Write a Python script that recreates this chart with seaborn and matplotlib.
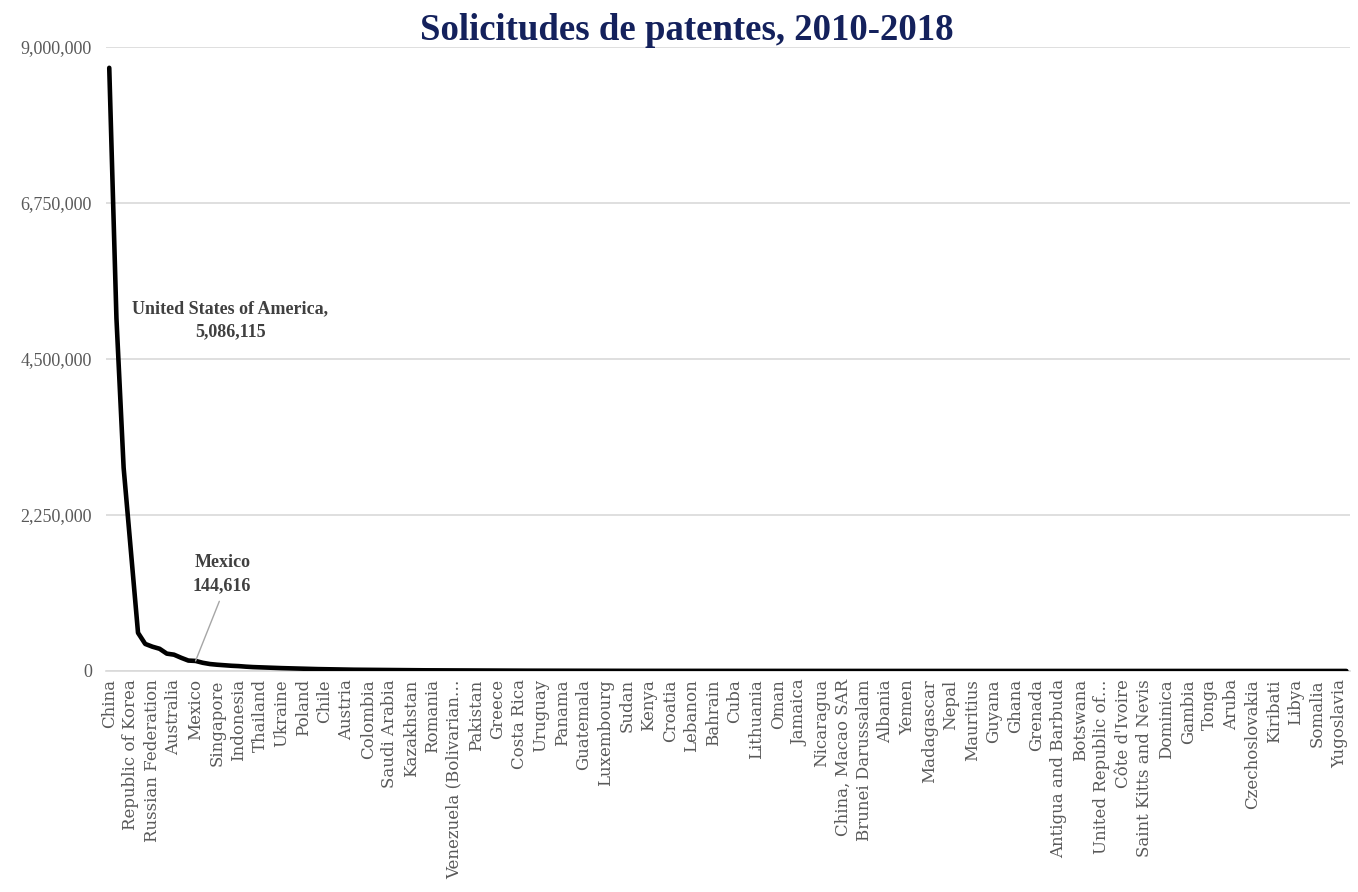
import matplotlib
matplotlib.use("Agg")
import matplotlib.pyplot as plt
import seaborn as sns
import pandas as pd

# ---------------- data ----------------
countries = [
    "China", "United States of America", "Japan",
    "Republic of Korea", "Germany", "India",
    "Russian Federation", "Canada", "Brazil",
    "Australia", "United Kingdom", "France",
    "Mexico", "China, Hong Kong SAR", "Israel",
    "Singapore", "Iran (Islamic Republic of)", "Italy",
    "Indonesia", "Viet Nam", "South Africa",
    "Thailand", "Turkey", "Spain",
    "Ukraine", "Malaysia", "Philippines",
    "Poland", "Argentina", "Egypt",
    "Chile", "New Zealand", "Netherlands",
    "Austria", "Denmark", "Finland",
    "Colombia", "Morocco", "Peru",
    "Saudi Arabia", "Czech Republic", "Belgium",
    "Kazakhstan", "Norway", "Portugal",
    "Romania", "Hungary", "Ecuador",
    "Venezuela (Bolivarian Republic of)", "Belarus", "Uzbekistan",
    "Pakistan", "Ireland", "Slovakia",
    "Greece", "Bulgaria", "Dominican Republic",
    "Costa Rica", "Georgia", "Serbia",
    "Uruguay", "Algeria", "Tunisia",
    "Panama", "Sri Lanka", "Slovenia",
    "Guatemala", "Armenia", "Republic of Moldova",
    "Luxembourg", "Azerbaijan", "Honduras",
    "Sudan", "El Salvador", "Jordan",
    "Kenya", "Estonia", "Kyrgyzstan",
    "Croatia", "Bosnia and Herzegovina", "Latvia",
    "Lebanon", "Mongolia", "Tajikistan",
    "Bahrain", "Qatar", "North Macedonia",
    "Cuba", "Zimbabwe", "Syrian Arab Republic",
    "Lithuania", "Trinidad and Tobago", "Bolivia (Plurinational State of)",
    "Oman", "Iceland", "Cyprus",
    "Jamaica", "Montenegro", "Paraguay",
    "Nicaragua", "Malta", "Iraq",
    "China, Macao SAR", "Zambia", "Barbados",
    "Brunei Darussalam", "Mozambique", "Malawi",
    "Albania", "Namibia", "Ethiopia",
    "Yemen", "Bangladesh", "Kuwait",
    "Madagascar", "Rwanda", "Uganda",
    "Nepal", "Cambodia", "Seychelles",
    "Mauritius", "Belize", "Bahamas",
    "Guyana", "Saint Lucia", "Liberia",
    "Ghana", "Sierra Leone", "Lesotho",
    "Grenada", "Eswatini", "Saint Vincent and the Grenadines",
    "Antigua and Barbuda", "Haiti", "Monaco",
    "Botswana", "Samoa", "Suriname",
    "United Republic of Tanzania", "Angola", "Bhutan",
    "Côte d'Ivoire", "Fiji", "Liechtenstein",
    "Saint Kitts and Nevis", "Andorra", "San Marino",
    "Dominica", "Vanuatu", "Papua New Guinea",
    "Gambia", "Maldives", "Afghanistan",
    "Tonga", "Lao People's Democratic Republic", "Myanmar",
    "Aruba", "Democratic People's Republic of Korea", "Senegal",
    "Czechoslovakia", "Cameroon", "Nigeria",
    "Kiribati", "Soviet Union", "Turkmenistan",
    "Libya", "Burundi", "Congo",
    "Somalia", "Djibouti", "Eritrea",
    "Yugoslavia", "Timor-Leste",
]

applications = [
    8700000, 5086115, 2930000, 1740000, 550000, 390000, 350000, 320000, 250000, 235000,
    190000, 150000, 144616, 118000, 100000, 90000, 82000, 75000, 70000, 62000,
    56000, 52000, 47000, 44000, 41000, 38000, 35000, 33000, 30000, 27000,
    25000, 23000, 21000, 19500, 18000, 17000, 16000, 15000, 14000, 13000,
    12200, 11500, 10800, 10100, 9500, 9000, 8400, 7900, 7400, 7000,
    6600, 6200, 5800, 5500, 5200, 4900, 4600, 4300, 4050, 3800,
    3600, 3400, 3200, 3000, 2850, 2700, 2550, 2400, 2280, 2160,
    2050, 1950, 1850, 1750, 1660, 1570, 1490, 1410, 1340, 1270,
    1200, 1140, 1080, 1020, 970, 920, 870, 820, 780, 740,
    700, 660, 625, 590, 560, 530, 500, 470, 445, 420,
    395, 370, 350, 330, 310, 290, 270, 255, 240, 225,
    210, 195, 182, 170, 158, 147, 136, 126, 117, 108,
    100, 92, 85, 78, 72, 66, 61, 56, 51, 47,
    43, 39, 36, 33, 30, 27, 25, 23, 21, 19,
    17, 15, 14, 13, 12, 11, 10, 9, 8, 7,
    6, 6, 5, 5, 4, 4, 3, 3, 3, 2,
    2, 2, 2, 1, 1, 1, 1, 1, 1, 1,
    1, 1, 1,
]

# Excel shows every third category label (long names truncated)
shown_labels = [
    "China", "Republic of Korea", "Russian Federation", "Australia", "Mexico",
    "Singapore", "Indonesia", "Thailand", "Ukraine", "Poland", "Chile", "Austria",
    "Colombia", "Saudi Arabia", "Kazakhstan", "Romania", "Venezuela (Bolivarian…",
    "Pakistan", "Greece", "Costa Rica", "Uruguay", "Panama", "Guatemala",
    "Luxembourg", "Sudan", "Kenya", "Croatia", "Lebanon", "Bahrain", "Cuba",
    "Lithuania", "Oman", "Jamaica", "Nicaragua", "China, Macao SAR",
    "Brunei Darussalam", "Albania", "Yemen", "Madagascar", "Nepal", "Mauritius",
    "Guyana", "Ghana", "Grenada", "Antigua and Barbuda", "Botswana",
    "United Republic of…", "Côte d'Ivoire", "Saint Kitts and Nevis", "Dominica",
    "Gambia", "Tonga", "Aruba", "Czechoslovakia", "Kiribati", "Libya", "Somalia",
    "Yugoslavia",
]
label_step = 3

y_ticks = [0, 2250000, 4500000, 6750000, 9000000]
title = "Solicitudes de patentes, 2010-2018"

# ---------------- plot ----------------
df = pd.DataFrame({"country": countries, "applications": applications})

sns.set_theme(style="white")
plt.rcParams["font.family"] = ["DejaVu Serif"]

fig = plt.figure(figsize=(13.58, 8.92), dpi=100)
ax = fig.add_axes([0.0778, 0.2478, 0.9163, 0.6995])

sns.lineplot(data=df, x="country", y="applications", ax=ax, sort=False,
             color="black", linewidth=3.3, solid_joinstyle="round",
             solid_capstyle="round", zorder=3)

n = len(countries)
ax.set_xlim(-0.5, n - 0.5)
ax.set_ylim(0, 9000000)

# y axis
ax.set_yticks(y_ticks)
ax.set_yticklabels([f"{v:,}" for v in y_ticks], fontfamily="Liberation Serif",
                   fontsize=13, color="#595959")
ax.yaxis.grid(True, color="#D9D9D9", linewidth=1.2)
ax.set_axisbelow(True)

# x axis
ax.set_xticks(range(0, n, label_step))
ax.set_xticklabels(shown_labels, rotation=90, fontfamily="DejaVu Serif",
                   fontsize=12, color="#595959", va="top", ha="center")
ax.tick_params(axis="both", length=0)
ax.tick_params(axis="y", pad=10)
ax.tick_params(axis="x", pad=6)

for side in ["left", "right", "top"]:
    ax.spines[side].set_visible(False)
ax.spines["bottom"].set_color("#D9D9D9")
ax.spines["bottom"].set_linewidth(1.2)

ax.set_xlabel("")
ax.set_ylabel("")

# data labels
ax.text(16.8, 5060000, "United States of America,\n5,086,115", ha="center",
        va="center", fontfamily="Liberation Serif", fontsize=13,
        fontweight="bold", color="#404040", linespacing=1.45)

ax.annotate("Mexico\n144,616", xy=(12, 144616), xytext=(15.7, 1400000),
            ha="center", va="center", fontfamily="Liberation Serif", fontsize=13,
            fontweight="bold", color="#404040", linespacing=1.5,
            arrowprops=dict(arrowstyle="-", color="#A6A6A6", lw=1,
                            shrinkA=3, shrinkB=0, relpos=(0.5, 0.0)))

fig.text(0.506, 0.966, title, ha="center", va="center",
         fontfamily="Liberation Serif", fontweight="bold", fontsize=26.5,
         color="#14215C")

fig.savefig("out.png", dpi=100, facecolor="white")
